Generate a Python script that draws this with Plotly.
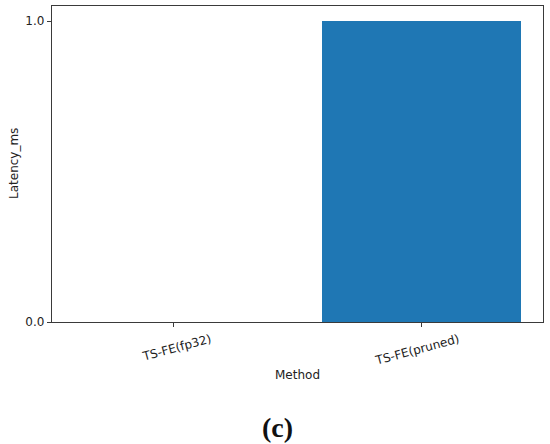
import plotly.graph_objects as go

methods = ["TS-FE(fp32)", "TS-FE(pruned)"]
latency_ms = [0.0, 1.0]
y_ticks = [0.0, 1.0]
y_tick_labels = ["0.0", "1.0"]

L, R, T, B = 52, 7, 6, 122
W, H = 550, 444
plot_h = H - T - B
plot_w = W - L - R

fig = go.Figure(go.Bar(
    x=[0, 1], y=latency_ms, width=0.8,
    marker=dict(color="#1f77b4", line=dict(width=0)),
    hoverinfo="skip",
))

axis_common = dict(
    showline=True, linecolor="#3a3a3a", linewidth=1.2, mirror=True,
    ticks="outside", ticklen=4, tickcolor="#3a3a3a", tickwidth=1,
    showgrid=False, zeroline=False,
    tickfont=dict(family="DejaVu Sans", size=12, color="#222"),
)

fig.update_layout(
    width=W, height=H,
    margin=dict(l=L, r=R, t=T, b=B),
    plot_bgcolor="white", paper_bgcolor="white",
    showlegend=False,
    bargap=0,
    xaxis=dict(range=[-0.49, 1.49], tickvals=[0, 1], ticktext=methods,
               tickangle=-15, ticklabelshift=37, ticklabelstandoff=1, **axis_common),
    yaxis=dict(range=[0, 1.05], tickvals=y_ticks, ticktext=y_tick_labels,
               **axis_common),
    annotations=[
        dict(text="Method", xref="paper", yref="paper", x=(297 - L) / plot_w,
             y=-53 / plot_h, showarrow=False, xanchor="center", yanchor="middle",
             font=dict(family="DejaVu Sans", size=12, color="#222")),
        dict(text="Latency_ms", xref="paper", yref="paper", x=-38 / plot_w,
             y=0.5, textangle=-90, showarrow=False,
             xanchor="center", yanchor="middle",
             font=dict(family="DejaVu Sans", size=12, color="#222")),
        dict(text="<b>(c)</b>", xref="paper", yref="paper", x=(277 - L) / plot_w,
             y=-105 / plot_h, showarrow=False, xanchor="center", yanchor="middle",
             font=dict(family="Liberation Serif", size=28, color="#111")),
    ],
)

fig.write_html("out.html", config={"displayModeBar": False, "staticPlot": True},
               post_script="document.body.style.margin='0';document.body.style.overflow='hidden';")
